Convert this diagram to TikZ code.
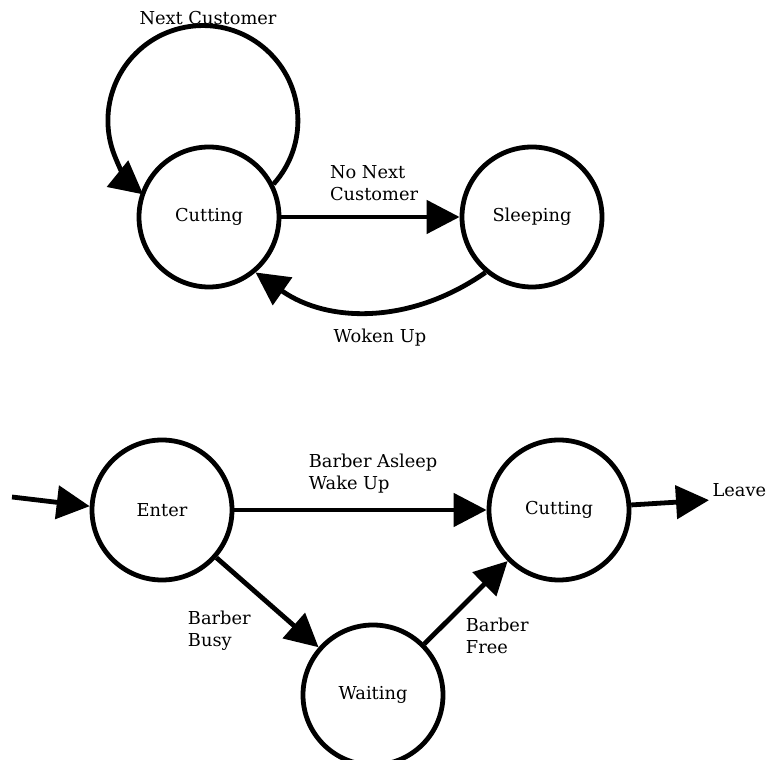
\documentclass[tikz,border=0pt]{standalone}
\usepackage{fontspec}
\setmainfont{DejaVu Serif}
\usetikzlibrary{arrows.meta}

\begin{document}
\begin{tikzpicture}[x=1pt,y=1pt,
   font=\fontsize{17.8}{22}\selectfont,
   state/.style={draw,circle,line width=4.8pt,minimum size=140pt,inner sep=0pt},
   trans/.style={-{Triangle[length=33pt,width=33pt]},line width=4.8pt},
   every node/.style={auto,align=left}]
\useasboundingbox (0,0) rectangle (766,760);
% barber
\node[state] (cut1) at (209,543) {Cutting};
\node[state] (sleep) at (532,543) {Sleeping};
\node (next) at (208,742) {Next Customer};
\draw[trans] (cut1.27) arc[start angle=-42,end angle=231,radius=95];
\draw[trans] (cut1) -- node[above=11pt,pos=0.52] {No Next\\Customer} (sleep);
\draw[trans] (sleep.230) to[bend left=35] node[below=12pt,pos=0.46] {Woken Up} (cut1.310);
% customer
\coordinate (start) at (12,263);
\node[state] (enter) at (162,250) {Enter};
\node[state] (cut2) at (559,250) {Cutting};
\node[state] (wait) at (373,65) {Waiting};
\node[anchor=west] (leave) at (709,270) {Leave};
\draw[trans] (start) -- (enter.177);
\draw[trans] (enter) -- node[above=11pt,pos=0.55] {Barber Asleep\\Wake Up} (cut2);
\draw[trans] (enter) -- node[below left,xshift=-3pt,yshift=-10pt,pos=0.42] {Barber\\Busy} (wait);
\draw[trans] (wait) -- node[below right,yshift=-4pt,pos=0.43] {Barber\\Free} (cut2);
\draw[trans] (cut2.4) -- (leave.south west);
\end{tikzpicture}
\end{document}
